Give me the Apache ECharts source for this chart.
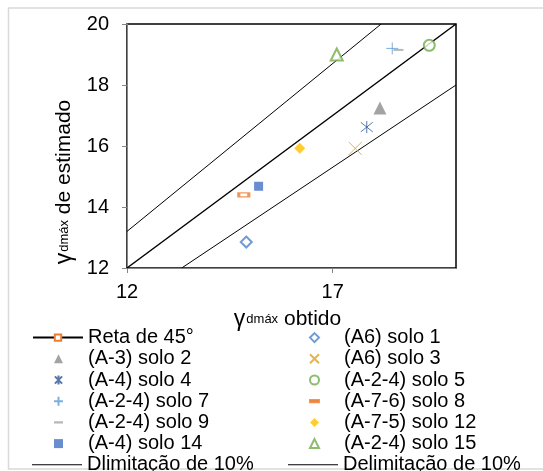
<!DOCTYPE html>
<html>
<head>
<meta charset="utf-8">
<script src="https://cdn.jsdelivr.net/npm/echarts@6/dist/echarts.min.js"></script>
<style>
  html, body { margin: 0; padding: 0; background: #fff; }
  #chart { width: 543px; height: 471px; }
</style>
</head>
<body>
<div id="chart"></div>
<script>
let dom = document.getElementById("chart")
let myChart = echarts.init(dom)

// reference lines (end points)
var reta45 = [[12, 12], [20, 20]];
var limSup = [[12, 13.2], [18.18, 20]];
var limInf = [[13.33, 12], [20, 18]];

// soil points [obtido, estimado]
var solo1 = [[14.9, 12.85]];
var solo2 = [[18.15, 17.25]];
var solo3 = [[17.55, 15.92]];
var solo4 = [[17.83, 16.62]];
var solo5 = [[19.35, 19.3]];
var solo7 = [[18.45, 19.2]];
var solo8 = [[14.84, 14.4]];
var solo9 = [[18.6, 19.15]];
var solo12 = [[16.2, 15.93]];
var solo14 = [[15.2, 14.68]];
var solo15 = [[17.1, 19.0]];

var xTicks = [12, 17];
var yTicks = [12, 14, 16, 18, 20];

var FONT = '"Liberation Sans", Arial, sans-serif';

let pathX = 'path://M0,0L10,10M10,0L0,10';
let pathPlus = 'path://M5,0L5,10M0,5L10,5';
let pathAst = 'path://M5,0L5,10M1,1L9,9M9,1L1,9';
let pathDash = 'path://M0,0L10,0L10,2.5L0,2.5Z';
let pathLine = 'path://M0,0L50,0L50,1L0,1Z';

let pt = function(name, data, symbol, size, color, filled){
  return {
    name: name,
    type: 'scatter',
    data: data,
    symbol: symbol,
    symbolSize: size,
    itemStyle: {
      color: color,
      borderColor: color,
      borderWidth: filled ? 0 : 1
    },
    z: 5
  }
}

let nameRich = {
  g: { fontSize: 23, fontFamily: FONT, color: '#000', padding: [0, 1, 0, 0] },
  s: { fontSize: 13, fontFamily: FONT, color: '#000' },
  t: { fontSize: 21, fontFamily: FONT, color: '#000' }
}

let rowH = 21.2
let legTop = 322
let legText = { fontSize: 20, lineHeight: rowH, fontFamily: FONT, color: '#000' }
let legSymText = { fontSize: 20, lineHeight: rowH, fontFamily: FONT, color: '#000', padding: [0, 0, 0, 20] }

let option = {
  animation: false,
  backgroundColor: '#fff',
  grid: {
    left: 127,
    right: 87,
    top: 24,
    bottom: 203,
    show: true,
    borderColor: '#000',
    borderWidth: 1.5
  },
  graphic: [{
    type: 'rect',
    silent: true,
    shape: { x: 8.5, y: 8, width: 560, height: 461 },
    style: { fill: 'none', stroke: '#d9d9d9', lineWidth: 1.5 }
  }],
  legend: [{
    orient: 'vertical', left: 27, top: legTop,
    itemWidth: 50, itemHeight: 8, itemGap: 0,
    textStyle: legText,
    data: ['Reta de 45°']
  }, {
    orient: 'vertical', left: 48, top: legTop + rowH,
    itemWidth: 9, itemHeight: 9, itemGap: 0,
    textStyle: legSymText,
    data: ['(A-3) solo 2', '(A-4) solo 4', '(A-2-4) solo 7',
           {name: '(A-2-4) solo 9', icon: pathDash}, '(A-4) solo 14']
  }, {
    orient: 'vertical', left: 27, top: legTop + 6 * rowH,
    itemWidth: 50, itemHeight: 8, itemGap: 0,
    textStyle: legText,
    data: [{name: 'Dlimitação de 10%', icon: pathLine}]
  }, {
    orient: 'vertical', left: 304, top: legTop,
    itemWidth: 9, itemHeight: 9, itemGap: 0,
    textStyle: legSymText,
    data: [{name: '(A6) solo 1', icon: 'emptyDiamond'}, '(A6) solo 3', '(A-2-4) solo 5',
           {name: '(A-7-6) solo 8', icon: pathDash}, '(A-7-5) solo 12', '(A-2-4) solo 15']
  }, {
    orient: 'vertical', left: 283, top: legTop + 6 * rowH,
    itemWidth: 50, itemHeight: 8, itemGap: 0,
    textStyle: legText,
    data: [{name: 'Delimitação de 10%', icon: pathLine}]
  }],
  xAxis: {
    type: 'value',
    min: xTicks[0],
    max: 20,
    interval: xTicks[1] - xTicks[0],
    name: '{g|γ}{s|dmáx}{t| obtido}',
    nameLocation: 'middle',
    nameGap: 40,
    nameTextStyle: { rich: nameRich, padding: [0, 8, 0, 0] },
    axisLine: { show: true, onZero: false, lineStyle: { color: '#868686', width: 1 } },
    axisTick: { show: true, length: 5, lineStyle: { color: '#868686' } },
    axisLabel: {
      fontSize: 20, fontFamily: FONT, color: '#000', margin: 14,
      showMaxLabel: false
    },
    splitLine: { show: false }
  },
  yAxis: {
    type: 'value',
    min: yTicks[0],
    max: yTicks[yTicks.length - 1],
    interval: yTicks[1] - yTicks[0],
    name: '{g|γ}{s|dmáx}{t| de estimado}',
    nameLocation: 'middle',
    nameGap: 40,
    nameTextStyle: { rich: nameRich, padding: [0, 72, 0, 0] },
    axisLine: { show: true, onZero: false, lineStyle: { color: '#868686', width: 1 } },
    axisTick: { show: true, length: 5, lineStyle: { color: '#868686' } },
    axisLabel: { fontSize: 20, fontFamily: FONT, color: '#000', margin: 18 },
    splitLine: { show: false }
  },
  series: [
    {
      name: 'Reta de 45°',
      type: 'line',
      data: reta45,
      symbol: 'emptyRect',
      symbolSize: 8,
      showSymbol: false,
      lineStyle: { color: '#000', width: 1.5 },
      itemStyle: { color: '#ED7D31', borderWidth: 1.3 },
      z: 3
    },
    pt('(A6) solo 1', solo1, 'emptyDiamond', 11, '#4F81C9', false),
    pt('(A-3) solo 2', solo2, 'triangle', 13, '#8C8C8C', true),
    pt('(A6) solo 3', solo3, pathX, 13, '#E0A21B', false),
    pt('(A-4) solo 4', solo4, pathAst, 12, '#2F5597', false),
    pt('(A-2-4) solo 5', solo5, 'emptyCircle', 11, '#70AD47', false),
    pt('(A-2-4) solo 7', solo7, pathPlus, 12, '#5B9BD5', false),
    pt('(A-7-6) solo 8', solo8, 'emptyRect', [10, 4], '#ED7D31', false),
    pt('(A-2-4) solo 9', solo9, 'rect', [10, 2], '#A5A5A5', true),
    pt('(A-7-5) solo 12', solo12, 'diamond', 11, '#FFC000', true),
    pt('(A-4) solo 14', solo14, 'rect', 9, '#4472C4', true),
    pt('(A-2-4) solo 15', solo15, 'emptyTriangle', 12, '#70AD47', false),
    {
      name: 'Dlimitação de 10%',
      type: 'line',
      data: limSup,
      symbol: 'none',
      lineStyle: { color: '#000', width: 1 },
      itemStyle: { color: '#000' },
      z: 3
    },
    {
      name: 'Delimitação de 10%',
      type: 'line',
      data: limInf,
      symbol: 'none',
      lineStyle: { color: '#000', width: 1 },
      itemStyle: { color: '#000' },
      z: 3
    }
  ]
}

myChart.setOption(option, true);

window.addEventListener('resize', function(){
  myChart.resize();
})
</script>
</body>
</html>
